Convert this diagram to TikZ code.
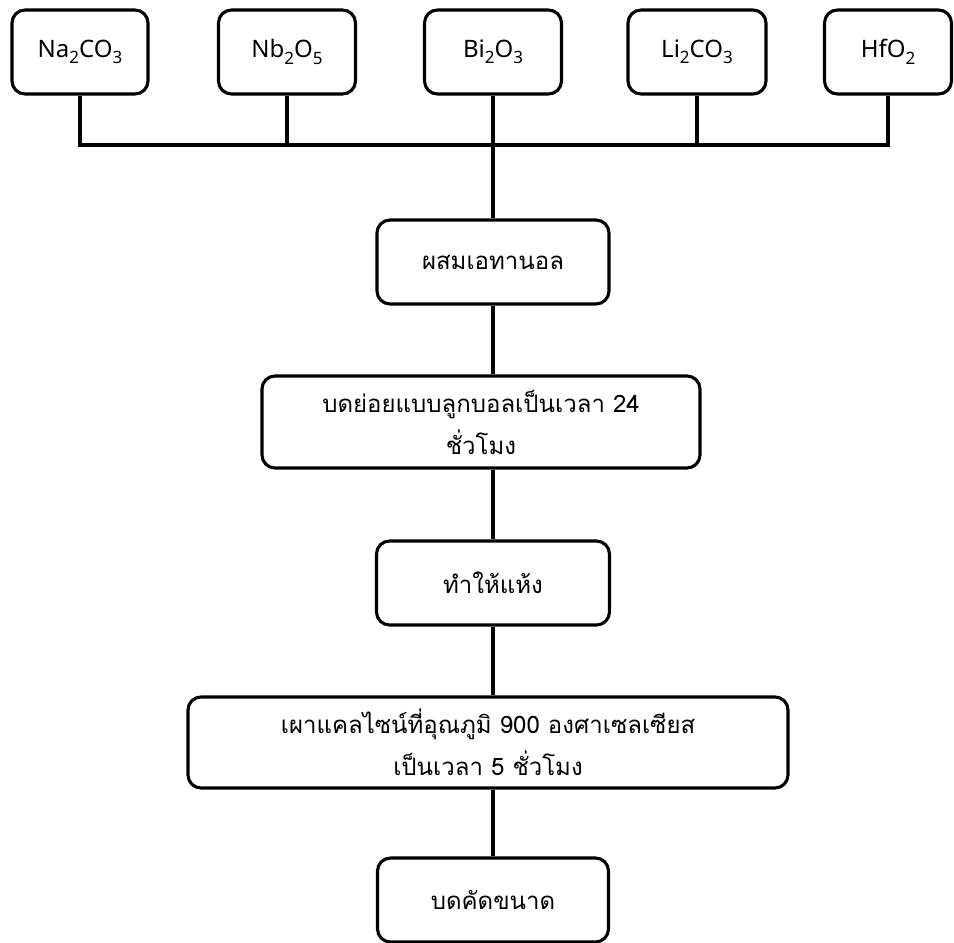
\documentclass[tikz,border=0pt]{standalone}
\usepackage{fontspec}
\setmainfont[Script=Thai]{Loma}
\newfontfamily\latinf{Noto Sans}
\newcommand{\chsub}[1]{\raisebox{-0.5ex}{\fontsize{17}{17}\selectfont #1}}
\begin{document}
\begin{tikzpicture}[x=1pt,y=-1pt,
  box/.style={draw, line width=3.1pt, rounded corners=13pt, minimum height=84pt, inner sep=0pt, align=center, font=\fontsize{24}{42}\selectfont},
  chem/.style={box, font=\latinf\fontsize{24}{28}\selectfont},
  link/.style={line width=3.1pt}]
\useasboundingbox (0,0) rectangle (954,943);
\node[chem, minimum width=136pt] (na) at (80,52) {Na\chsub{2}CO\chsub{3}};
\node[chem, minimum width=137pt] (nb) at (287,52) {Nb\chsub{2}O\chsub{5}};
\node[chem, minimum width=137pt] (bi) at (493,52) {Bi\chsub{2}O\chsub{3}};
\node[chem, minimum width=138pt] (li) at (697,52) {Li\chsub{2}CO\chsub{3}};
\node[chem, minimum width=127pt] (hf) at (888,52) {HfO\chsub{2}};
\node[box, minimum width=232pt] (mix) at (493,262) {ผสมเอทานอล};
\node[box, minimum width=438pt, minimum height=92pt] (ball) at (481,422) {บดย่อยแบบลูกบอลเป็นเวลา 24\\ชั่วโมง};
\node[box, minimum width=233pt] (dry) at (493,583) {ทำให้แห้ง};
\node[box, minimum width=600pt, minimum height=91pt] (calc) at (488,742.5) {เผาแคลไซน์ที่อุณภูมิ 900 องศาเซลเซียส\\เป็นเวลา 5 ชั่วโมง};
\node[box, minimum width=231pt] (sieve) at (493,900) {บดคัดขนาด};
\coordinate (bar) at (0,145);
\draw[link] (na.south) -- (na.south |- bar) -- (hf.south |- bar) -- (hf.south);
\draw[link] (nb.south) -- (nb.south |- bar);
\draw[link] (li.south) -- (li.south |- bar);
\draw[link] (bi.south) -- (mix.north);
\draw[link] (mix.south) -- (mix.south |- ball.north);
\draw[link] (mix.south |- ball.south) -- (dry.north);
\draw[link] (dry.south) -- (dry.south |- calc.north);
\draw[link] (dry.south |- calc.south) -- (sieve.north);
\end{tikzpicture}
\end{document}
